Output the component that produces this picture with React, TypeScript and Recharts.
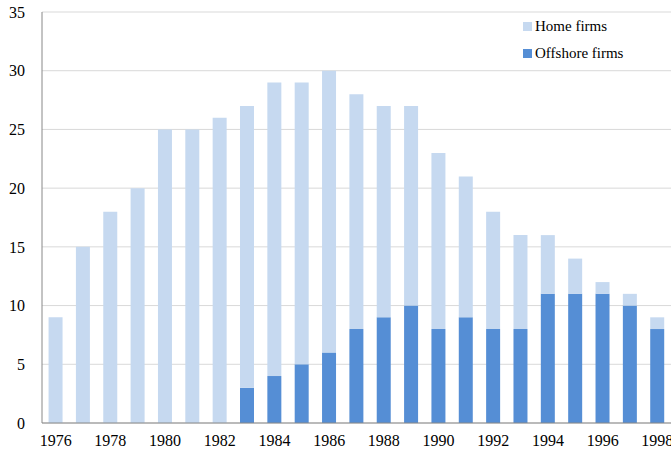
import { BarChart, Bar, XAxis, YAxis, CartesianGrid } from "recharts";

const years = [
  "1976", "1977", "1978", "1979", "1980", "1981", "1982", "1983", "1984", "1985", "1986", "1987",
  "1988", "1989", "1990", "1991", "1992", "1993", "1994", "1995", "1996", "1997", "1998",
];
const totalFirms = [9, 15, 18, 20, 25, 25, 26, 27, 29, 29, 30, 28, 27, 27, 23, 21, 18, 16, 16, 14, 12, 11, 9];
const offshoreFirms = [0, 0, 0, 0, 0, 0, 0, 3, 4, 5, 6, 8, 9, 10, 8, 9, 8, 8, 11, 11, 11, 10, 8];
const yTicks = [0, 5, 10, 15, 20, 25, 30, 35];

const HOME = "#C6D9F0";
const OFFSHORE = "#558ED5";
const FONT = "Liberation Serif, Times New Roman, serif";

const data = years.map((year, i) => ({
  year,
  offshore: offshoreFirms[i],
  home: totalFirms[i] - offshoreFirms[i],
}));

export default function App() {
  return (
    <div style={{ position: "relative", width: 671, height: 453, fontFamily: FONT }}>
      <style>{`body { margin: 0; }`}</style>
      <BarChart
        width={671}
        height={453}
        data={data}
        margin={{ top: 12, right: 0, bottom: 0, left: 0 }}
        barCategoryGap="24%"
        style={{ fontFamily: FONT }}
      >
        <CartesianGrid vertical={false} stroke="#D9D9D9" />
        <XAxis
          dataKey="year"
          interval={1}
          height={30}
          tickLine={false}
          axisLine={{ stroke: "#888888" }}
          tickMargin={6}
          tick={{ fill: "#000000", fontSize: 16, fontFamily: FONT }}
        />
        <YAxis
          width={42}
          domain={[0, 35]}
          ticks={yTicks}
          tickLine={false}
          axisLine={{ stroke: "#888888" }}
          tickMargin={11}
          tick={{ fill: "#000000", fontSize: 16, fontFamily: FONT }}
        />
        <Bar dataKey="offshore" stackId="a" fill={OFFSHORE} isAnimationActive={false} />
        <Bar dataKey="home" stackId="a" fill={HOME} isAnimationActive={false} />
      </BarChart>
      <div style={{ position: "absolute", left: 523, top: 13, fontSize: 15, color: "#000" }}>
        <div style={{ display: "flex", alignItems: "center", height: 27 }}>
          <span style={{ width: 9, height: 9, background: HOME, marginRight: 3 }} />
          Home firms
        </div>
        <div style={{ display: "flex", alignItems: "center", height: 27 }}>
          <span style={{ width: 9, height: 9, background: OFFSHORE, marginRight: 3 }} />
          Offshore firms
        </div>
      </div>
    </div>
  );
}
